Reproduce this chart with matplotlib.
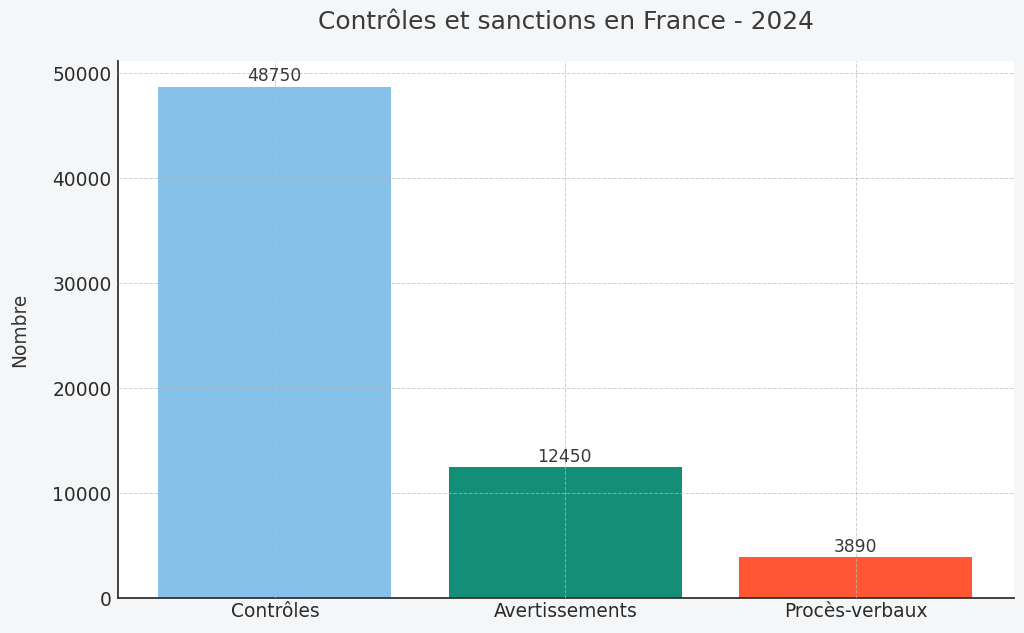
import matplotlib
matplotlib.use("Agg")
import matplotlib.pyplot as plt

categories = ["Contrôles", "Avertissements", "Procès-verbaux"]
values = [48750, 12450, 3890]
colors = ["#85C1E9", "#148F77", "#FF5733"]
yticks = [0, 10000, 20000, 30000, 40000, 50000]

fig = plt.figure(figsize=(10.24, 6.33), dpi=100, facecolor="#F4F6F8")
ax = fig.add_axes([118/1024, 1-598/633, (1014-118)/1024, (598-61)/633])
ax.set_facecolor("white")
bars = ax.bar(categories, values, color=colors, width=0.802)
ax.set_ylim(0, 51190)
ax.set_xlim(-0.54, 2.544)
ax.set_yticks(yticks)
ax.grid(True, linestyle="--", linewidth=0.7, color="#BBBBBB", alpha=0.7)
ax.set_axisbelow(False)
for s in ["top", "right"]:
    ax.spines[s].set_visible(False)
for s in ["left", "bottom"]:
    ax.spines[s].set_linewidth(1.3)
    ax.spines[s].set_color("#333333")
ax.tick_params(axis="x", labelsize=13.4, length=0, colors="#2b2b2b", pad=3)
ax.tick_params(axis="y", labelsize=13.4, length=0, colors="#2b2b2b", pad=4.5)
ax.set_ylabel("Nombre", fontsize=13.4, color="#333333", labelpad=16.5)
fig.text(565.5/1024, 1-22/633, "Contrôles et sanctions en France - 2024", fontsize=17.9,
         color="#3a3a3a", ha="center", va="center")
for b, v in zip(bars, values):
    ax.annotate(str(v), (b.get_x()+b.get_width()/2, v), xytext=(-0.5, 1.2), textcoords="offset points",
                ha="center", va="bottom", fontsize=12.3, color="#3a3a3a")
fig.savefig("out.png", dpi=100, facecolor=fig.get_facecolor())
